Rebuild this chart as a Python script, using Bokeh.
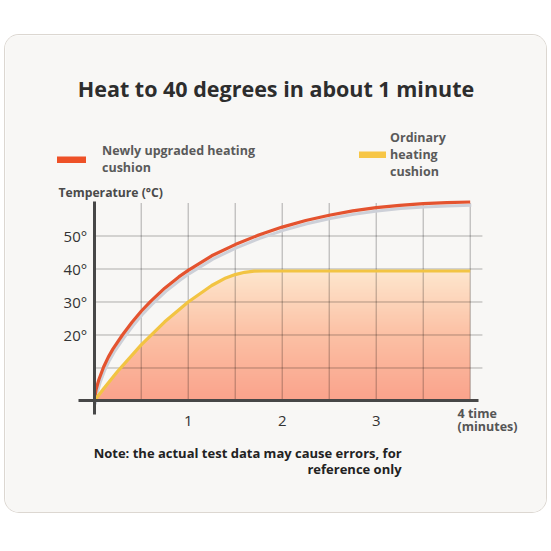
import numpy as np
from bokeh.plotting import figure
from bokeh.models import (ColumnDataSource, FixedTicker, Label, Legend, LegendItem,
                          Range1d)
from bokeh.transform import dodge
from bokeh.embed import file_html
from bokeh.resources import INLINE

# ---------------- data ----------------
title_text = "Heat to 40 degrees in about 1 minute"
series_new_name = "Newly upgraded heating\ncushion"
series_ord_name = "Ordinary\nheating\ncushion"
y_axis_title = "Temperature (°C)"
note_text = "Note: the actual test data may cause errors, for\nreference only"
last_minute_label = "4 time\n(minutes)"

minutes_new = [0, 0.02, 0.05, 0.1, 0.15, 0.2, 0.3, 0.4, 0.5, 0.6, 0.75, 0.9, 1.0,
               1.25, 1.5, 1.75, 2.0, 2.25, 2.5, 2.75, 3.0, 3.25, 3.5, 3.75, 4.0]
temp_new = [0, 3.5, 6.5, 10.3, 13.3, 15.8, 20.0, 23.8, 27.2, 30.2, 34.2, 37.6, 39.6,
            44.0, 47.4, 50.3, 52.7, 54.7, 56.3, 57.6, 58.6, 59.3, 59.8, 60.1, 60.3]

minutes_ord = [0, 0.1, 0.25, 0.5, 0.75, 1.0, 1.25, 1.4, 1.5, 1.6, 1.7, 1.8,
               2.0, 2.5, 3.0, 3.5, 4.0]
temp_ord = [0, 3.7, 9.0, 17.0, 24.0, 30.0, 35.0, 37.3, 38.3, 39.0, 39.35, 39.4,
            39.4, 39.4, 39.4, 39.4, 39.4]

temp_ticks = [20, 30, 40, 50]
temp_tick_labels = ["20°", "30°", "40°", "50°"]
minute_ticks = [1, 2, 3]
minute_tick_labels = ["1", "2", "3"]
grid_minutes = [0.5, 1.0, 1.5, 2.0, 2.5, 3.0, 3.5, 4.0]
grid_temps = [10, 20, 30, 40, 50]
grid_top = 60
grid_right = 4.13

# ---------------- style ----------------
FONT = "Open Sans"
CARD = "#f8f7f5"
RED = "#e4532f"
RED_PILL = "#ee5127"
YELLOW = "#f2c443"
YELLOW_PILL = "#f7c646"
SHADOW = "#cdd0d8"
AXIS = "#474747"

X0, X1 = -0.9436, 4.8117
Y0, Y1 = -33.79, 110.76

p = figure(width=541, height=477, output_backend="svg", toolbar_location=None,
           x_range=Range1d(X0, X1), y_range=Range1d(Y0, Y1),
           min_border_left=0, min_border_right=0, min_border_top=0,
           min_border_bottom=0, background_fill_color=CARD,
           border_fill_color=CARD, outline_line_color=None)
p.margin = (35, 5, 0, 5)
p.styles = {"border-radius": "14px", "overflow": "hidden",
            "box-shadow": "0 0 0 1px #dcd7d1"}
p.xgrid.visible = False
p.ygrid.visible = False

# gradient fill under the ordinary curve
fill_top = max(temp_ord) + 0.6
n = 120
t = np.linspace(0, 1, n)
stops = [0, 0.5, 1]
r = np.interp(t, stops, [250, 252, 254])
g = np.interp(t, stops, [163, 193, 232])
b = np.interp(t, stops, [140, 165, 207])
img = np.empty((n, 1), dtype=np.uint32)
view = img.view(dtype=np.uint8).reshape((n, 1, 4))
view[:, 0, 0] = r.astype(np.uint8)
view[:, 0, 1] = g.astype(np.uint8)
view[:, 0, 2] = b.astype(np.uint8)
view[:, 0, 3] = 255
p.image_rgba(image=[img], x=0, y=0, dw=max(minutes_ord), dh=fill_top)
p.varea(x=minutes_ord, y1=temp_ord, y2=fill_top, fill_color=CARD)

# grid
p.segment(x0=grid_minutes, y0=0, x1=grid_minutes, y1=grid_top,
          line_color="#000000", line_alpha=0.3, line_width=1)
p.segment(x0=0, y0=grid_temps, x1=grid_right, y1=grid_temps,
          line_color="#000000", line_alpha=0.3, line_width=1)

# curves
src_new = ColumnDataSource(dict(m=minutes_new, t=temp_new))
src_ord = ColumnDataSource(dict(m=minutes_ord, t=temp_ord))
p.line(x=dodge("m", 0.012, range=p.x_range), y=dodge("t", -1.0, range=p.y_range),
       source=src_new, line_color=SHADOW, line_width=3, line_join="round")
p.line("m", "t", source=src_new, line_color=RED, line_width=3.2, line_join="round")
p.line("m", "t", source=src_ord, line_color=YELLOW, line_width=3.2, line_join="round")

# axes through the origin
for ax in (p.xaxis[0], p.yaxis[0]):
    ax.fixed_location = 0
    ax.axis_line_color = AXIS
    ax.axis_line_width = 3
    ax.major_tick_line_color = None
    ax.minor_tick_line_color = None
    ax.major_label_text_font = FONT
    ax.major_label_text_font_size = "15px"
    ax.major_label_text_color = "#333333"
p.xaxis.ticker = FixedTicker(ticks=minute_ticks)
p.xaxis.major_label_overrides = dict(zip(minute_ticks, minute_tick_labels))
p.xaxis.major_label_standoff = 9
p.xaxis.bounds = (-0.167, 4.09)
p.yaxis.ticker = FixedTicker(ticks=temp_ticks)
p.yaxis.major_label_overrides = dict(zip(temp_ticks, temp_tick_labels))
p.yaxis.major_label_standoff = 1
p.yaxis.bounds = (-4.09, 60.4)

# texts
p.add_layout(Label(x=1.934, y=94.7, text=title_text, text_align="center",
                   text_baseline="middle", text_font=FONT, text_font_style="bold",
                   text_font_size="21.5px", text_color="#2d2d2d"))
p.add_layout(Label(x=-0.38, y=63.2, text=y_axis_title, text_align="left",
                   text_baseline="middle", text_font=FONT, text_font_style="bold",
                   text_font_size="12.2px", text_color="#4a4a4a"))
p.add_layout(Label(x=3.865, y=-5.8, text=last_minute_label, text_align="left",
                   text_baseline="middle", text_font=FONT, text_font_style="bold",
                   text_font_size="12.5px", text_color="#555555",
                   text_line_height=0.8))
p.add_layout(Label(x=3.27, y=-18.2, text=note_text, text_align="right",
                   text_baseline="middle", text_font=FONT, text_font_style="bold",
                   text_font_size="13px", text_color="#222222",
                   text_line_height=0.86))

# legends (pill markers) - hidden twin renderers supply the legend glyphs
r_leg_new = p.line("m", "t", source=src_new, line_color=RED_PILL, line_width=7,
                   line_cap="round", visible=False)
r_leg_ord = p.line("m", "t", source=src_ord, line_color=YELLOW_PILL, line_width=7,
                   line_cap="round", visible=False)


def make_legend(label, rend, loc, standoff, gw):
    return Legend(items=[LegendItem(label=label, renderers=[rend])], location=loc,
                  orientation="vertical", border_line_color=None,
                  background_fill_alpha=0, padding=0, margin=0, spacing=0,
                  glyph_width=gw, glyph_height=7, label_standoff=standoff,
                  label_text_font=FONT, label_text_font_style="bold",
                  label_text_font_size="12.5px", label_text_color="#5a5a5a")


p.add_layout(make_legend(series_new_name, r_leg_new, (52, 336), 16, 29), "center")
p.add_layout(make_legend(series_ord_name, r_leg_ord, (354, 332), 4, 27), "center")

html = file_html(p, INLINE, title="Heat to 40 degrees")
html = html.replace("<body>", '<body style="background: linear-gradient(180deg, #fdf6ea 0%, '
                    '#fcf0df 60%, #fbe7cd 100%); min-height: 100vh;">', 1)
open("out.html", "w").write(html)
